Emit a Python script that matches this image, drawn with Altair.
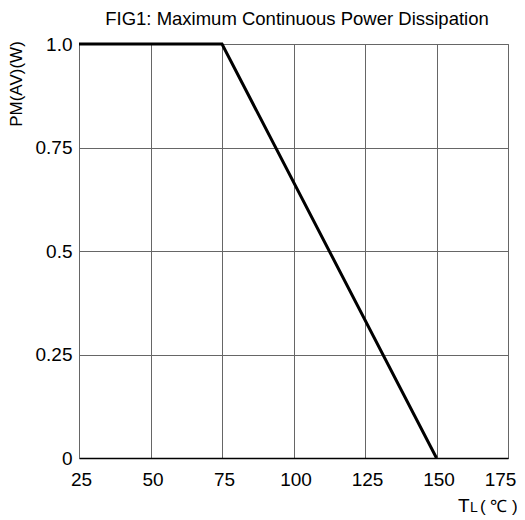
import altair as alt
import pandas as pd

temps = [25, 75, 150]
power = [1.0, 1.0, 0.0]
x_ticks = [25, 50, 75, 100, 125, 150, 175]
y_ticks = [0, 0.25, 0.5, 0.75, 1.0]

df = pd.DataFrame({"t": temps, "p": power})
FONT = "Liberation Sans"

label_expr = "datum.value == 0 ? '0' : datum.value == 1 ? '1.0' : format(datum.value, '.2~f')"

base = alt.Chart(df).mark_line(color="black", strokeWidth=3, clip=False).encode(
    x=alt.X("t:Q", scale=alt.Scale(domain=[25, 175], nice=False),
            axis=alt.Axis(values=x_ticks, title=None, grid=True, gridColor="#666666",
                          gridWidth=1, ticks=False, domain=True, domainColor="black",
                          domainWidth=1.5, labelFont=FONT, labelFontSize=19,
                          labelColor="black", labelPadding=12, labelFlush=False,
                          labelOffset=alt.ExprRef("datum.value == 175 ? -8 : 2"))),
    y=alt.Y("p:Q", scale=alt.Scale(domain=[0, 1], nice=False),
            axis=alt.Axis(values=y_ticks, title=None, grid=True, gridColor="#666666",
                          gridWidth=1, ticks=False, domain=True, domainColor="#666666",
                          labelExpr=label_expr, labelFont=FONT, labelFontSize=19,
                          labelColor="black", labelPadding=7, labelFlush=False)),
)

one = pd.DataFrame({"a": [0]})

def txt(s, x, y, size, **kw):
    return alt.Chart(one).mark_text(text=s, font=FONT, fontSize=size, color="black", **kw).encode(
        x=alt.value(x), y=alt.value(y))

title = txt("FIG1: Maximum Continuous Power Dissipation", 218, -19, 18.5,
            align="center", baseline="alphabetic")
xt_T = txt("T", 379, 468, 19, align="left", baseline="alphabetic")
xt_L = txt("L", 391, 468, 14, align="left", baseline="alphabetic")
xt_u = txt("( \u2103 )", 401, 468, 17, align="left", baseline="alphabetic")
ytitle = txt("PM(AV)(W)", -62, 40, 17, angle=270, align="center", baseline="middle")

chart = alt.layer(base, title, xt_T, xt_L, xt_u, ytitle).properties(
    width=429, height=414,
    autosize=alt.AutoSizeParams(type="none"),
    padding={"left": 71, "top": 36, "right": 9, "bottom": 62},
).configure_view(stroke="#666666", strokeWidth=1)

chart.save("out.html", embed_options={"renderer": "svg", "actions": False})
